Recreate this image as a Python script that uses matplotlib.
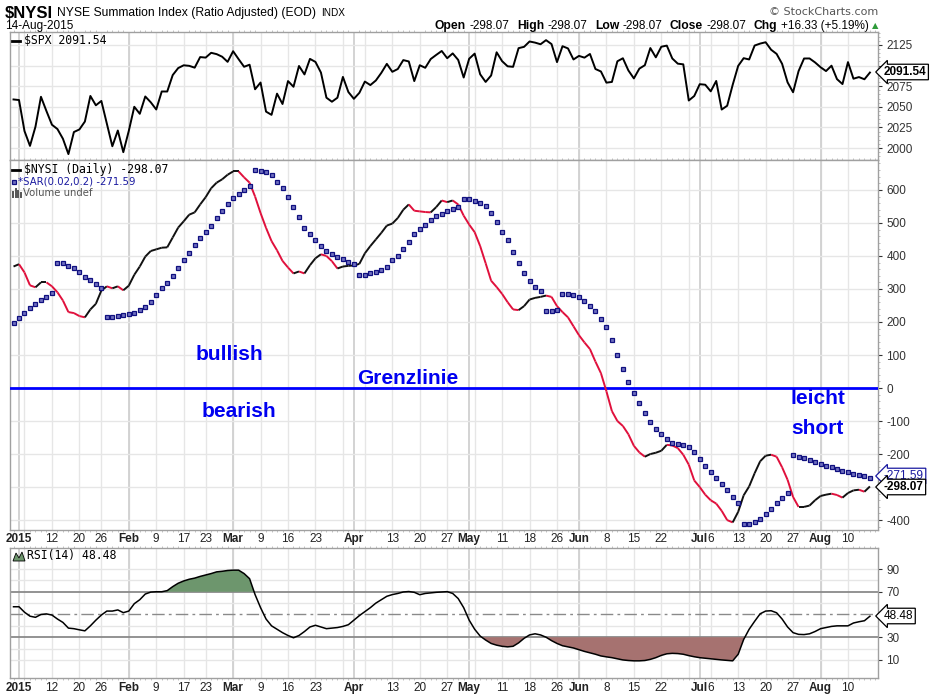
import numpy as np
import pandas as pd
import matplotlib
matplotlib.use("Agg")
import matplotlib.pyplot as plt
from matplotlib.collections import LineCollection
from matplotlib.lines import Line2D
from matplotlib.patches import Polygon
from matplotlib.ticker import FixedLocator, MultipleLocator

plt.rcParams["font.family"] = ["Liberation Sans", "DejaVu Sans"]
plt.rcParams["axes.unicode_minus"] = False

# ── Data ─────────────────────────────────────────────────────────────────────
HOLIDAYS = ["2015-01-01", "2015-01-19", "2015-02-16", "2015-04-03",
            "2015-05-25", "2015-07-03"]
DAYS = pd.bdate_range("2014-12-31", "2015-08-14", freq="C", holidays=HOLIDAYS)

SPX = [2058.90, 2058.20, 2020.58, 2002.61, 2025.90, 2062.14, 2044.81, 2028.26, 2023.03, 2011.27,
       1992.67, 2019.42, 2022.55, 2032.12, 2063.15, 2051.82, 2057.09, 2029.55, 2002.16, 2021.25,
       1994.99, 2020.85, 2050.03, 2041.51, 2062.52, 2055.47, 2046.74, 2068.59, 2068.53, 2088.48,
       2096.99, 2100.34, 2099.68, 2097.45, 2110.30, 2109.66, 2115.48, 2113.86, 2110.74, 2104.50,
       2117.39, 2107.78, 2098.53, 2101.04, 2071.26, 2079.43, 2044.16, 2040.24, 2065.95, 2053.40,
       2081.19, 2074.28, 2099.50, 2089.27, 2108.10, 2104.42, 2091.50, 2061.05, 2056.15, 2061.02,
       2086.24, 2067.89, 2059.69, 2066.96, 2080.62, 2076.33, 2081.90, 2091.18, 2102.06, 2092.43,
       2095.84, 2106.63, 2104.99, 2081.18, 2100.40, 2097.29, 2107.96, 2112.93, 2117.69, 2108.92,
       2114.76, 2106.85, 2085.51, 2108.29, 2114.49, 2089.46, 2080.15, 2088.00, 2116.10, 2105.33,
       2099.12, 2098.48, 2121.10, 2122.73, 2129.20, 2127.83, 2125.85, 2130.82, 2126.06, 2104.20,
       2123.48, 2120.79, 2107.39, 2111.73, 2109.60, 2114.07, 2095.84, 2092.83, 2079.28, 2080.15,
       2105.20, 2108.86, 2094.11, 2084.43, 2096.29, 2100.44, 2121.24, 2109.99, 2122.85, 2124.20,
       2108.58, 2102.31, 2101.49, 2057.64, 2063.11, 2077.42, 2076.78, 2068.76, 2081.34, 2046.68,
       2051.31, 2076.62, 2099.60, 2108.95, 2107.40, 2124.29, 2126.64, 2128.28, 2119.21, 2114.15,
       2102.15, 2079.65, 2067.64, 2093.25, 2108.57, 2108.63, 2103.84, 2098.04, 2093.32, 2099.84,
       2083.56, 2077.57, 2104.18, 2084.07, 2086.05, 2083.39, 2091.54]

NYSI = [368, 375, 350, 311, 305, 320, 320, 308, 290, 265,
        230, 227, 218, 214, 238, 255, 295, 308, 302, 308,
        296, 310, 343, 368, 398, 415, 420, 425, 426, 456,
        486, 505, 525, 532, 556, 578, 605, 622, 632, 646,
        656, 656, 638, 622, 580, 530, 485, 445, 417, 385,
        365, 347, 353, 347, 372, 393, 405, 400, 384, 362,
        368, 370, 371, 376, 408, 430, 450, 470, 492, 498,
        515, 540, 556, 537, 535, 533, 532, 548, 568, 563,
        568, 556, 522, 495, 472, 430, 378, 325, 306, 285,
        260, 238, 236, 248, 268, 273, 276, 280, 276, 248,
        230, 214, 187, 160, 138, 118, 80, 45, -10, -70,
        -100, -115, -140, -175, -195, -208, -200, -196, -190, -172,
        -174, -182, -202, -232, -280, -300, -323, -340, -350, -372,
        -400, -407, -375, -325, -298, -258, -222, -205, -202, -208,
        -240, -278, -330, -360, -360, -356, -340, -327, -323, -320,
        -324, -332, -318, -310, -308, -314, -298.07]

SAR = [196, 211, 226, 242, 254, 266, 275, 287, 378, 378,
       369, 362, 350, 335, 326, 314, 302, 214, 216, 218,
       220, 223, 226, 236, 245, 260, 281, 302, 317, 338,
       362, 387, 408, 432, 453, 474, 492, 514, 535, 556,
       574, 589, 601, 613, 659, 656, 653, 644, 625, 607,
       580, 547, 517, 486, 465, 447, 429, 414, 405, 396,
       390, 381, 375, 341, 341, 347, 350, 356, 368, 387,
       399, 420, 441, 465, 483, 495, 510, 520, 526, 535,
       541, 547, 571, 571, 565, 559, 550, 529, 502, 474,
       447, 411, 378, 347, 323, 305, 293, 233, 233, 236,
       284, 284, 281, 275, 263, 248, 233, 208, 184, 146,
       100, 57, 18, -15, -45, -76, -103, -124, -139, -154,
       -166, -169, -172, -178, -193, -215, -236, -254, -272, -290,
       -308, -329, -347, -411, -411, -405, -396, -381, -366, -347,
       -332, -317, -202, -208, -211, -218, -224, -230, -236, -239,
       -245, -251, -254, -260, -263, -266, -271.59]

RSI = [56.8, 56.8, 52, 48.5, 47.5, 50, 50.5, 49.5, 46, 43,
       38, 37.5, 36.5, 35.6, 40, 45, 49.5, 53, 53, 54,
       51.6, 53, 59.5, 63, 68, 69.7, 70, 70, 71, 74.5,
       77.5, 79.5, 81, 82, 83.5, 84.7, 86, 87.5, 88, 88.7,
       89, 89, 86, 81.5, 67.5, 56, 46, 40, 37, 34,
       31.5, 29.5, 31.5, 35, 39, 40.5, 39, 37.5, 38, 38.5,
       39.5, 41, 45, 49, 52.5, 56, 60, 63, 66, 67.5,
       68.5, 69.8, 70.2, 69.5, 67.4, 68.5, 69, 69.5, 69.8, 70.1,
       68.5, 64, 56, 45, 37, 31, 27.5, 24.5, 23, 22,
       21.5, 22, 25, 29, 32, 33, 32, 30, 27, 24.5,
       22.5, 21.5, 20.5, 19, 17.5, 16.3, 15, 13.5, 12.7, 12,
       11, 10, 9.5, 9.2, 9.2, 9.5, 10.5, 12, 14, 15.4,
       15.8, 15.6, 15, 13.8, 12.8, 12, 11.5, 11, 10.5, 10,
       9.6, 9.2, 15, 28, 37, 44, 50.6, 53, 53.3, 51.5,
       46, 39, 34, 32.5, 32.3, 33, 35, 37.5, 38.5, 39.5,
       40, 40, 40, 42.5, 43.6, 44.5, 48.48]

TICK_DATES = ["2015-01-02", "2015-01-12", "2015-01-20", "2015-01-26", "2015-02-02",
              "2015-02-09", "2015-02-17", "2015-02-23", "2015-03-02", "2015-03-09",
              "2015-03-16", "2015-03-23", "2015-04-01", "2015-04-13", "2015-04-20",
              "2015-04-27", "2015-05-01", "2015-05-11", "2015-05-18", "2015-05-26",
              "2015-06-01", "2015-06-08", "2015-06-15", "2015-06-22", "2015-07-01",
              "2015-07-06", "2015-07-13", "2015-07-20", "2015-07-27", "2015-08-03",
              "2015-08-10"]
TICK_LABELS = ["2015", "12", "20", "26", "Feb", "9", "17", "23", "Mar", "9", "16", "23",
               "Apr", "13", "20", "27", "May", "11", "18", "26", "Jun", "8", "15", "22",
               "Jul", "6", "13", "20", "27", "Aug", "10"]
BOLD = {"2015", "Feb", "Mar", "Apr", "May", "Jun", "Jul", "Aug"}

# ── Layout ───────────────────────────────────────────────────────────────────
W, H = 936, 700
fig = plt.figure(figsize=(W / 100, H / 100), dpi=100)


def box(l, t, r, b):
    return [l / W, 1 - b / H, (r - l) / W, (b - t) / H]


def fy(y):
    return 1 - y / H


ax1 = fig.add_axes(box(10, 32, 878, 160))
ax2 = fig.add_axes(box(10, 160, 878, 530))
ax3 = fig.add_axes(box(10, 548, 878, 678))

x = np.arange(len(DAYS))
nysi = np.array(NYSI, float)
rsi = np.array(RSI, float)
tick_pos = [DAYS.get_loc(pd.Timestamp(d)) for d in TICK_DATES]
week_pos = [i for i in range(1, len(DAYS)) if DAYS[i].weekday() < DAYS[i - 1].weekday()]
month_pos = [i for i in range(1, len(DAYS)) if DAYS[i].month != DAYS[i - 1].month]

GRID = "#e6e6e6"
for ax in (ax1, ax2, ax3):
    ax.set_xlim(-0.64, 157.47)
    for s in ax.spines.values():
        s.set_color("#a0a0a0")
        s.set_linewidth(1)
    ax.yaxis.tick_right()
    ax.tick_params(axis="y", which="major", direction="out", length=3, pad=3,
                   labelsize=8.5, colors="#333333")
    ax.tick_params(axis="y", which="minor", direction="out", length=1.5, color="#b0b0b0")
    ax.xaxis.set_major_locator(FixedLocator(tick_pos))
    ax.xaxis.set_minor_locator(MultipleLocator(1))
    ax.tick_params(axis="x", which="major", length=0, pad=2, labelsize=8.5,
                   colors="#222222")
    ax.tick_params(axis="x", which="minor", length=1.5, color="#b8b8b8",
                   direction="out", top=True)
    for p in week_pos:
        ax.axvline(p, color=GRID, lw=1, zorder=0)
    for p in month_pos:
        ax.axvline(p, color="#d0d0d0", lw=1.3, zorder=0)
    ax.set_xticklabels([])

# ── SPX panel ────────────────────────────────────────────────────────────────
ax1.set_ylim(1985.5, 2140.7)
spx_ticks = np.arange(2000, 2126, 25)
ax1.set_yticks(spx_ticks)
# the 2100 label sits behind the last-value tag
ax1.set_yticklabels([str(v) if v != 2100 else "" for v in spx_ticks])
ax1.yaxis.set_minor_locator(MultipleLocator(5))
for v in spx_ticks:
    ax1.axhline(v, color=GRID, lw=1, zorder=0)
ax1.plot(x, SPX, color="black", lw=1.4, zorder=3)

# ── NYSI panel ───────────────────────────────────────────────────────────────
ax2.set_ylim(-430, 690.6)
nysi_ticks = np.arange(-400, 601, 100)
ax2.set_yticks(nysi_ticks)
ax2.set_yticklabels([str(v) if v != -300 else "" for v in nysi_ticks])
ax2.yaxis.set_minor_locator(MultipleLocator(20))
for v in nysi_ticks:
    ax2.axhline(v, color=GRID, lw=1, zorder=0)
ax2.axhline(0, color="#0000ff", lw=2, zorder=3)

pts = np.column_stack([x, nysi])
segs = np.stack([pts[:-1], pts[1:]], axis=1)
cols = np.where(np.diff(nysi) < 0, "#e0103c", "#111111")
ax2.add_collection(LineCollection(segs, colors=cols, linewidths=1.4, zorder=4))
ax2.plot(x, SAR, ls="none", marker="s", ms=2.2, mfc="#7070c0", mec="#101080",
         mew=0.9, zorder=5)

ax2.set_xticklabels(TICK_LABELS)

# ── RSI panel ────────────────────────────────────────────────────────────────
ax3.set_ylim(-5.9, 108.5)
ax3.set_yticks([10, 30, 70, 90])
for v in (10, 20, 40, 60, 80, 90):
    ax3.axhline(v, color=GRID, lw=1, zorder=0)
ax3.axhline(70, color="#8a8a8a", lw=1.3, zorder=1)
ax3.axhline(30, color="#8a8a8a", lw=1.3, zorder=1)
ax3.axhline(50, color="#8a8a8a", lw=1, ls=(0, (9, 3, 2, 3)), zorder=1)
ax3.fill_between(x, rsi, 70, where=rsi >= 70, interpolate=True,
                 color="#6d966d", lw=0, zorder=2)
ax3.fill_between(x, rsi, 30, where=rsi <= 30, interpolate=True,
                 color="#a67270", lw=0, zorder=2)
ax3.plot(x, rsi, color="black", lw=1.1, zorder=3)
ax3.set_xticklabels(TICK_LABELS)
ax3.tick_params(axis="x", which="major", pad=3)

for ax in (ax2, ax3):
    for lab in ax.get_xticklabels():
        if lab.get_text() in BOLD:
            lab.set_fontweight("bold")

# ── Annotations ──────────────────────────────────────────────────────────────
BLUE = "#0000f0"
ann = dict(color=BLUE, fontsize=15, fontweight="bold", va="center", ha="left")
fig.text(196 / W, fy(355), "bullish", **ann)
fig.text(202 / W, fy(411), "bearish", **ann)
fig.text(357 / W, fy(378), "Grenzlinie", **ann)
fig.text(790 / W, fy(398), "leicht", **ann)
fig.text(791 / W, fy(428), "short", **ann)

# ── Header text ──────────────────────────────────────────────────────────────
renderer = fig.canvas.get_renderer()


def text_run(xa, y, pieces, anchor="left"):
    objs, gaps = [], []
    for s, kw, gap in pieces:
        objs.append(fig.text(0, fy(y), s, va="center", ha="left", **kw))
        gaps.append(gap)
    widths = [o.get_window_extent(renderer).width for o in objs]
    total = sum(widths) + sum(gaps[:-1])
    xpos = xa if anchor == "left" else xa - total
    for o, w, g in zip(objs, widths, gaps):
        o.set_x(xpos / W)
        xpos += w + g


text_run(5, 13, [("$NYSI", dict(fontsize=12, fontweight="bold"), 4),
                 ("NYSE Summation Index (Ratio Adjusted) (EOD)", dict(fontsize=8.7), 5),
                 ("INDX", dict(fontsize=7.2), 0)])
fig.text(5 / W, fy(26), "14-Aug-2015", fontsize=8.5, va="center")
fig.text(878 / W, fy(12), "\u00a9 StockCharts.com", fontsize=8, color="#555555",
         va="center", ha="right", family=["DejaVu Sans"])
bold = dict(fontsize=8.7, fontweight="bold")
norm = dict(fontsize=8.5)
text_run(878, 26, [("Open", bold, 3), ("-298.07", norm, 8), ("High", bold, 3),
                   ("-298.07", norm, 8), ("Low", bold, 3), ("-298.07", norm, 8),
                   ("Close", bold, 3), ("-298.07", norm, 8), ("Chg", bold, 3),
                   ("+16.33 (+5.19%)", norm, 3),
                   ("\u25b2", dict(fontsize=6, color="#2e9b3a", family=["DejaVu Sans"]), 0)],
         anchor="right")

# ── Panel legends ────────────────────────────────────────────────────────────
mono = dict(fontsize=8.3, family=["DejaVu Sans Mono"], va="center")
fig.add_artist(Line2D([12 / W, 20 / W], [fy(41)] * 2, color="black", lw=2))
fig.text(24 / W, fy(41), "$SPX 2091.54", **mono)
fig.add_artist(Line2D([12 / W, 20 / W], [fy(170)] * 2, color="black", lw=2))
fig.text(24 / W, fy(170), "$NYSI (Daily) -298.07", **mono)
fig.add_artist(Line2D([14 / W], [fy(182)], ls="none", marker="s", ms=2.2,
                      mfc="#7070c0", mec="#101080", mew=0.9))
fig.text(18 / W, fy(182), "*SAR(0.02,0.2) -271.59", fontsize=7.3, color="#1a1aa0",
         va="center", family=["DejaVu Sans"])
for bx, bh in ((13, 5), (15.5, 8), (18, 6), (20.5, 4)):
    fig.add_artist(Line2D([bx / W] * 2, [fy(197), fy(197 - bh)], color="#555555", lw=1.4))
fig.text(23 / W, fy(193), "Volume undef", fontsize=7.3, color="#555555",
         va="center", family=["DejaVu Sans"])
fig.add_artist(Polygon([[13 / W, fy(561)], [16 / W, fy(553)], [19 / W, fy(558)],
                        [22 / W, fy(552)], [25 / W, fy(561)]], closed=True,
                       fc="#6d966d", ec="black", lw=0.6))
fig.text(27 / W, fy(556), "RSI(14) 48.48", **mono)


# ── Right-hand value tags ────────────────────────────────────────────────────
def tag(y, s, color="black", weight="normal", z=5):
    fig.text(884 / W, fy(y), s, fontsize=8.5, fontweight=weight, color=color,
             va="center", ha="left", zorder=z,
             bbox=dict(boxstyle="larrow,pad=0.15", fc="white", ec=color, lw=0.9))


tag(72, "2091.54", weight="bold")
tag(476, "-271.59", color="#1a1aa0", z=5)
tag(487, "-298.07", weight="bold", z=6)
tag(616, "48.48")

fig.savefig("out.png", dpi=100, facecolor="white")
